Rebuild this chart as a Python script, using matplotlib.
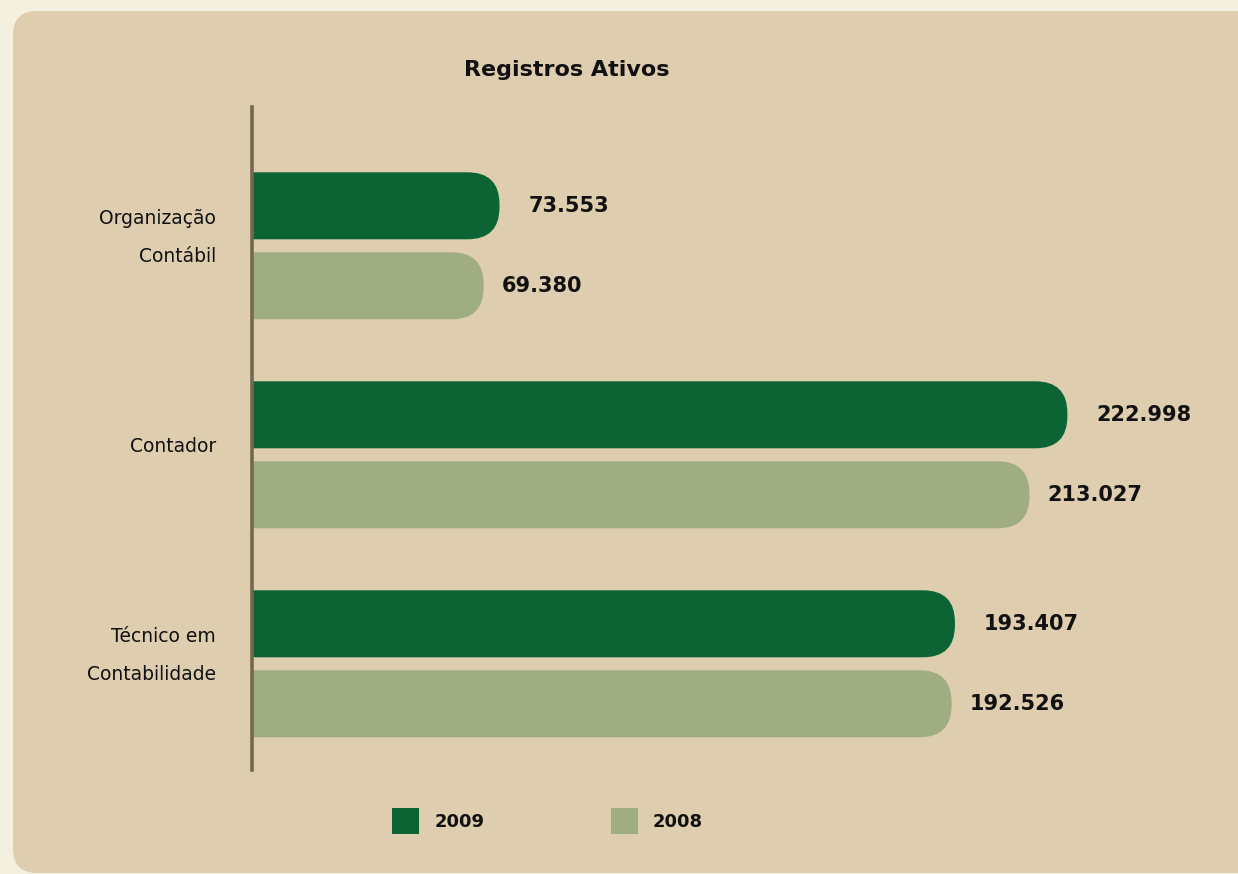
import matplotlib.pyplot as plt
from matplotlib.patches import FancyBboxPatch, Patch

# data
categories = ["Organização\nContábil", "Contador", "Técnico em\nContabilidade"]
values_2009 = [73553, 222998, 193407]
values_2008 = [69380, 213027, 192526]
series_labels = ["2009", "2008"]

c2009 = "#0C6333"
c2008 = "#A0AD80"
panel = "#DFCDB0"
outer = "#F3F0DF"
axis_col = "#76674F"
txt = "#111111"


def fmt(v):
    return f"{v:,}".replace(",", ".")


W, H = 1238, 874
fig = plt.figure(figsize=(W / 100, H / 100), dpi=100)
fig.patch.set_facecolor(outer)

# rounded background panel
bg = fig.add_axes([0, 0, 1, 1])
bg.set_xlim(0, W)
bg.set_ylim(H, 0)
bg.axis("off")
bg.add_patch(FancyBboxPatch((13, 11), W + 80, 862,
                            boxstyle="round,pad=0,rounding_size=24",
                            fc=panel, ec="none"))

# main axes, placed in pixels
ax_left, ax_top, ax_bot = 252, 107, 770
ax = fig.add_axes([ax_left / W, (H - ax_bot) / H,
                   (W - ax_left) / W, (ax_bot - ax_top) / H])
ax.set_facecolor("none")

px_per_unit = 0.0038    # x scale
zero_px = 220           # where value 0 sits
group_px = 209          # pixels between groups
first_px = 245.8        # centre of first group
xmin = (ax_left - zero_px) / px_per_unit
xmax = (W - zero_px) / px_per_unit
ymin = -(first_px - ax_top) / group_px
ymax = (ax_bot - first_px) / group_px

bar_h = 67 / group_px
off = 40 / group_px
r_px = 32
r_x = r_px / px_per_unit
r_y = r_px / group_px

for i in range(len(categories)):
    for vals, col, dy, pad in ((values_2009, c2009, -off, 21),
                               (values_2008, c2008, off, 13)):
        y = i + dy
        v = vals[i]
        ax.add_patch(FancyBboxPatch((0, y - bar_h / 2), v, bar_h,
                                    boxstyle=f"round,pad=0,rounding_size={r_x}",
                                    mutation_aspect=r_y / r_x,
                                    fc=col, ec="none"))
        ax.annotate(fmt(v), xy=(v, y), xytext=(pad, 0),
                    textcoords="offset points", ha="left", va="center",
                    fontsize=15, fontweight="bold", color=txt)
    ax.annotate(categories[i], xy=(0, i - 0.04),
                xycoords=ax.get_yaxis_transform(),
                xytext=(-26, 0), textcoords="offset points",
                ha="right", va="center", fontsize=13.5, color=txt,
                linespacing=2.25)

ax.set_xlim(xmin, xmax)
ax.set_ylim(ymax, ymin)
ax.set_xticks([])
ax.set_yticks([])
for s in ("top", "right", "bottom"):
    ax.spines[s].set_visible(False)
ax.spines["left"].set_color(axis_col)
ax.spines["left"].set_linewidth(2.6)

fig.text(567 / W, 1 - 70 / H, "Registros Ativos", ha="center", va="center",
         fontsize=16, fontweight="bold", color=txt)

handles = [Patch(fc=c2009, ec="none"), Patch(fc=c2008, ec="none")]
leg = fig.legend(handles, series_labels, loc="center",
                 bbox_to_anchor=(547.5 / W, 1 - 821 / H), ncol=2,
                 frameon=False, prop={"size": 13, "weight": "bold"},
                 handlelength=1.5, handleheight=1.9, handletextpad=0.85,
                 columnspacing=7)
for t in leg.get_texts():
    t.set_color(txt)

fig.savefig("out.png", dpi=100, facecolor=outer)
